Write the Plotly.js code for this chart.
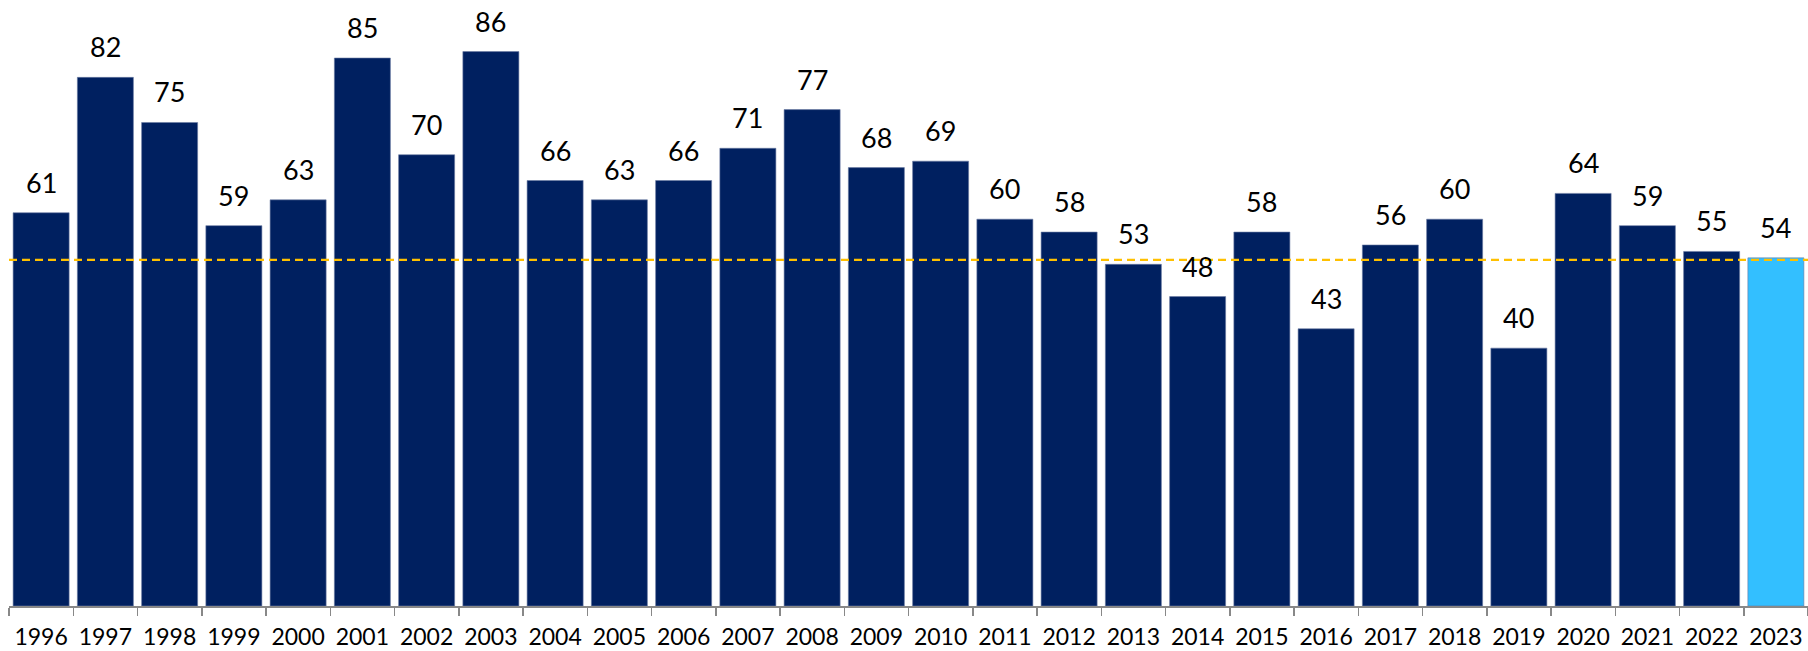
<!DOCTYPE html>
<html>
<head>
<meta charset="utf-8">
<script src="https://cdn.plot.ly/plotly-3.0.1.min.js"></script>
<style>html,body{margin:0;padding:0;background:#fff;}#chart{width:1808px;height:651px;}</style>
</head>
<body>
<div id="chart"></div>
<script>
const years = ["1996","1997","1998","1999","2000","2001","2002","2003","2004","2005","2006","2007","2008","2009","2010","2011","2012","2013","2014","2015","2016","2017","2018","2019","2020","2021","2022","2023"];
const values = [61,82,75,59,63,85,70,86,66,63,66,71,77,68,69,60,58,53,48,58,43,56,60,40,64,59,55,54];
const referenceValue = 53.7;
const darkBlue = "#002060";
const lightBlue = "#33BFFF";

const colors = years.map((y, i) => i === years.length - 1 ? lightBlue : darkBlue);

const barTrace = {
  type: "bar",
  x: years,
  y: values,
  marker: {color: colors, line: {color: "#6a7ba3", width: 0.6}},
  hoverinfo: "x+y"
};

const annotations = years.map((y, i) => ({
  x: i, y: values[i], xref: "x", yref: "y",
  text: String(values[i]),
  showarrow: false, xanchor: "center", yanchor: "bottom", yshift: 12,
  font: {family: "Lato, sans-serif", size: 27, color: "#000000"}
}));

const layout = {
  width: 1808, height: 651,
  margin: {l: 9, r: 0, t: 0, b: 45, pad: 0},
  paper_bgcolor: "#fff", plot_bgcolor: "#fff",
  showlegend: false,
  bargap: 0.128,
  xaxis: {
    type: "category",
    range: [-0.5, years.length - 0.5],
    tickson: "boundaries",
    ticks: "outside", ticklen: 8, tickwidth: 1.5, tickcolor: "#888",
    showline: true, linecolor: "#888", linewidth: 1.5,
    showgrid: false, zeroline: false,
    tickfont: {family: "Lato, sans-serif", size: 23, color: "#000"},
    ticklabelstandoff: 10
  },
  yaxis: {
    range: [0, 94], visible: false, showgrid: false, zeroline: false
  },
  shapes: [{
    type: "line", xref: "paper", yref: "y",
    x0: 0, x1: 1, y0: referenceValue, y1: referenceValue,
    line: {color: "#FFC000", width: 2.2, dash: "8px,5px"},
    layer: "above"
  }],
  annotations: annotations
};

Plotly.newPlot("chart", [barTrace], layout, {displayModeBar: false, staticPlot: true});
</script>
</body>
</html>
